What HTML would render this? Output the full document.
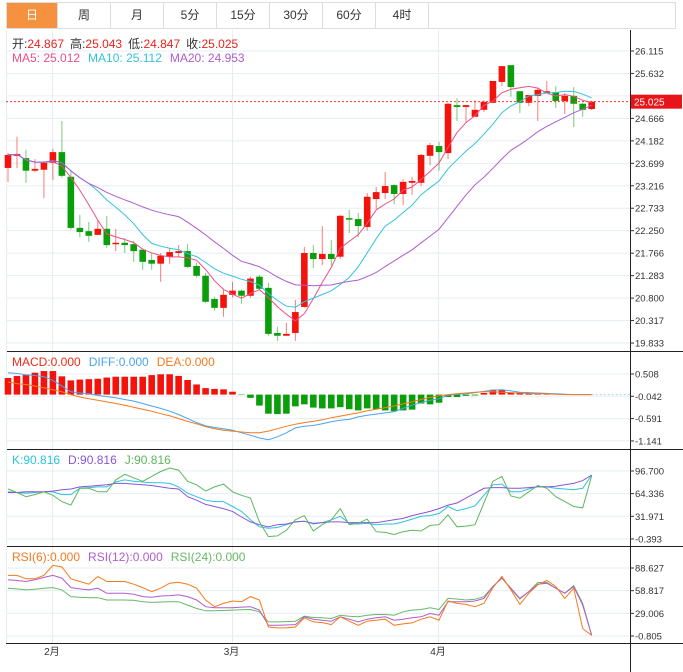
<!DOCTYPE html>
<html><head><meta charset="utf-8">
<style>
html,body{margin:0;padding:0;background:#fff;width:683px;height:672px;overflow:hidden;font-family:"Liberation Sans","Noto Sans CJK SC",sans-serif;}
#tabs{position:absolute;left:6px;top:2px;height:27px;width:670px;border:1px solid #ddd;box-sizing:border-box;display:flex;}
.tab{width:53px;height:100%;border-right:1px solid #ddd;box-sizing:border-box;text-align:center;line-height:25px;font-size:12px;color:#333;}
.tab.active{background:#f59240;color:#fff;width:51px;}
svg{position:absolute;left:0;top:0;}
</style></head><body>
<div id="tabs">
<div class="tab active">日</div>
<div class="tab">周</div>
<div class="tab">月</div>
<div class="tab">5分</div>
<div class="tab">15分</div>
<div class="tab">30分</div>
<div class="tab">60分</div>
<div class="tab">4时</div>
</div>
<svg id="chart" width="683" height="672"></svg>
<script>
const opens=[23.60,23.86,23.81,23.54,23.56,23.71,23.94,23.41,22.31,22.24,22.16,22.29,21.96,21.99,21.96,21.84,21.62,21.54,21.69,21.77,21.81,21.49,21.28,20.78,20.59,20.87,20.96,20.85,21.26,21.02,20.05,19.99,20.05,20.61,21.77,21.64,21.75,21.69,22.52,22.50,22.33,22.93,23.06,23.23,23.04,23.28,23.28,23.86,24.07,23.92,24.95,24.91,24.70,24.85,25.00,25.45,25.81,25.25,25.00,25.15,25.23,25.23,25.04,25.15,24.98,24.867];
const highs=[23.92,24.27,23.99,23.79,23.75,24.01,24.61,23.56,22.59,22.44,22.48,22.57,22.29,22.09,22.03,21.84,21.77,21.77,21.88,21.94,21.96,21.56,21.34,20.83,21.00,21.15,20.98,21.26,21.30,21.13,20.18,20.27,20.76,21.90,21.94,22.35,22.05,22.59,22.70,22.63,23.06,23.19,23.51,23.25,23.36,23.41,23.90,24.14,24.16,25.00,25.10,24.95,25.06,25.06,25.47,25.79,25.81,25.25,25.17,25.32,25.47,25.36,25.21,25.34,25.00,25.043];
const lows=[23.30,23.60,23.28,23.51,22.95,23.34,23.39,22.27,22.11,22.01,22.16,21.88,21.81,21.77,21.58,21.41,21.41,21.15,21.54,21.69,21.45,21.24,20.70,20.53,20.40,20.81,20.68,20.81,20.98,19.99,19.88,19.99,19.88,20.59,21.45,21.51,21.49,21.64,22.20,22.11,22.25,22.72,22.93,22.82,22.80,23.02,23.21,23.66,23.54,23.79,24.61,24.59,24.70,24.80,25.00,25.36,25.13,24.78,24.93,24.61,25.23,24.89,24.76,24.48,24.70,24.847];
const closes=[23.88,23.90,23.54,23.58,23.71,23.94,23.43,22.31,22.22,22.14,22.29,21.94,21.99,21.94,21.81,21.58,21.54,21.71,21.79,21.81,21.47,21.28,20.72,20.59,20.87,20.96,20.85,21.22,21.00,20.03,19.99,20.03,20.50,21.77,21.64,21.75,21.64,22.57,22.50,22.35,22.98,23.08,23.21,23.04,23.30,23.32,23.88,24.09,23.94,24.98,24.91,24.95,24.85,25.02,25.47,25.79,25.34,25.00,25.17,25.28,25.25,25.04,25.15,24.98,24.85,25.025];
const priceTicks=[26.115,25.632,25.149,24.666,24.182,23.699,23.216,22.733,22.250,21.766,21.283,20.800,20.317,19.833];
const macdHist=[0.41,0.46,0.48,0.54,0.58,0.58,0.45,0.35,0.37,0.38,0.39,0.42,0.44,0.44,0.44,0.44,0.48,0.50,0.50,0.46,0.36,0.25,0.16,0.14,0.13,0.07,-0.01,-0.08,-0.27,-0.47,-0.48,-0.47,-0.29,-0.24,-0.32,-0.34,-0.34,-0.31,-0.36,-0.39,-0.34,-0.36,-0.39,-0.41,-0.39,-0.37,-0.22,-0.24,-0.20,-0.06,-0.06,-0.03,-0.02,0.04,0.12,0.12,0.04,0.04,0.04,0.04,0.02,0,0,0,0,0];
const diffVals=[0.54,0.52,0.49,0.47,0.44,0.35,0.21,0.07,0.04,0.02,-0.02,-0.05,-0.08,-0.12,-0.16,-0.22,-0.28,-0.34,-0.41,-0.49,-0.59,-0.69,-0.77,-0.81,-0.84,-0.88,-0.94,-1.00,-1.07,-1.11,-1.04,-0.94,-0.82,-0.78,-0.76,-0.72,-0.67,-0.63,-0.61,-0.55,-0.51,-0.48,-0.45,-0.42,-0.34,-0.26,-0.20,-0.14,-0.10,-0.02,0.01,0.02,0.05,0.08,0.11,0.12,0.09,0.06,0.05,0.04,0.03,0.02,0.01,0,0,0];
const deaVals=[0.31,0.27,0.25,0.21,0.17,0.12,0.07,0,-0.06,-0.10,-0.14,-0.18,-0.22,-0.26,-0.31,-0.36,-0.41,-0.47,-0.52,-0.59,-0.66,-0.72,-0.79,-0.84,-0.88,-0.90,-0.92,-0.94,-0.94,-0.90,-0.84,-0.78,-0.73,-0.69,-0.66,-0.62,-0.57,-0.53,-0.49,-0.45,-0.40,-0.36,-0.32,-0.28,-0.23,-0.18,-0.12,-0.07,-0.03,0,0.02,0.04,0.06,0.07,0.07,0.06,0.05,0.04,0.03,0.02,0.02,0.01,0,0,0,0];
const macdTicks=[0.508,-0.042,-0.591,-1.141];
const kVals=[67,66,65,66,67,67,63,63,72,73,74,74,81,84,82,81,80,80,79,74,65,60,55,53,53,46,39,27,17,15,16,20,24,25,21,23,27,32,22,21,22,20,21,21,24,28,32,33,36,46,40,43,47,62,77,78,67,67,71,75,74,72,71,70,72,91];
const dVals=[66,66,67,67,67,68,70,71,74,75,76,77,79,79,78,77,76,74,72,71,60,55,49,46,43,39,31,24,20,17,20,21,24,25,22,23,24,24,23,23,23,23,25,27,29,33,36,39,43,48,51,58,65,72,73,73,72,72,73,74,74,75,77,79,83,91];
const jVals=[71,66,60,63,67,62,53,48,72,72,67,67,84,92,87,82,89,96,101,98,82,77,68,74,78,67,62,58,24,3,4,12,27,33,11,20,27,43,20,22,28,10,9,6,10,12,11,19,20,34,17,18,20,51,82,89,61,58,67,76,72,60,53,46,44,90];
const kdjTicks=[96.700,64.336,31.971,-0.393];
const rsi6=[78.9,78.9,74.4,74.4,78.9,92.2,89.9,74.4,70.9,67.3,77.5,70.9,70.9,70.9,67.3,62.9,57.6,62.0,68.7,70.0,67.3,62.0,46.5,37.7,42.1,45.2,44.3,51.0,46.5,11.1,9.8,9.8,11.1,23.1,17.7,16.8,14.2,24.4,18.6,13.3,18.6,20.0,21.3,13.3,15.1,16.4,21.3,24.4,20.0,45.2,42.1,40.8,37.7,42.1,62.9,77.5,59.8,40.8,55.4,66.5,72.2,64.3,48.7,62.0,8.9,0];
const rsi12=[73.1,72.2,70.9,73.1,76.2,78.9,75.3,62.9,61.1,59.8,62.0,55.4,55.4,55.4,54.1,51.0,50.1,51.8,52.3,53.2,51.0,46.5,37.7,36.3,36.3,36.3,37.2,37.7,33.2,13.3,13.3,13.7,14.2,24.4,21.3,20.0,18.6,24.4,21.3,17.7,21.3,23.1,24.4,20.0,21.3,23.1,24.4,28.8,26.6,44.3,44.3,44.3,45.2,48.7,64.3,75.3,62.0,48.7,57.6,67.3,68.7,62.0,55.4,64.3,39.9,0];
const rsi24=[62.0,61.1,59.8,60.7,62.0,62.9,59.8,51.0,50.1,49.6,49.6,46.5,46.5,46.5,46.1,44.3,43.4,43.9,44.3,44.3,39.9,35.4,32.3,32.3,32.8,33.2,33.7,34.1,31.0,17.7,17.7,18.2,18.6,25.3,23.5,23.1,22.2,26.6,25.3,24.4,26.6,27.5,27.5,26.6,31.0,33.2,34.1,36.3,34.1,48.7,47.8,46.5,47.4,51.0,64.3,75.3,61.1,47.8,57.6,69.6,69.6,62.0,55.4,65.6,42.1,0];
const rsiTicks=[88.627,58.817,29.006,-0.805];
const months=["2月","3月","4月"];
const monthIdx=[5,25,48];
</script>
<script>
const svg=document.getElementById('chart');
const NS='http://www.w3.org/2000/svg';
function mk(tag,attrs,parent){const e=document.createElementNS(NS,tag);for(const k in attrs)e.setAttribute(k,attrs[k]);(parent||svg).appendChild(e);return e;}
const N=closes.length;
const xOf=i=>8+8.98*i;
const yMain=p=>51+(26.115-p)*46.49;
const yMacd=v=>394.6-v*40.6;
const yKdj=v=>471+(96.7-v)*0.70;
const yRsi=v=>568+(88.627-v)*0.7604;
const RIGHT=630;
// gridlines
const grid=mk('g',{});


function hgrid(y){mk('line',{x1:6,x2:RIGHT,y1:y,y2:y,stroke:'#e6edf2','stroke-width':1},grid);}
priceTicks.forEach(t=>hgrid(yMain(t)));
macdTicks.forEach(t=>hgrid(yMacd(t)));
kdjTicks.forEach(t=>hgrid(yKdj(t)));
rsiTicks.forEach(t=>hgrid(yRsi(t)));
monthIdx.forEach(i=>{const x=Math.round(xOf(i)-1)+0.5;mk('line',{x1:x,x2:x,y1:30,y2:643,stroke:'#e6edf2','stroke-width':1},grid);});
// frame lines
[351.5,449.5,546.5,643.5].forEach(y=>mk('line',{x1:6,x2:683,y1:y,y2:y,stroke:'#222','stroke-width':1}));
mk('line',{x1:6.5,x2:6.5,y1:30,y2:643,stroke:'#e6edf2','stroke-width':1});
mk('line',{x1:RIGHT+0.5,x2:RIGHT+0.5,y1:30,y2:672,stroke:'#222','stroke-width':1});
// axis labels
function axisLabels(ticks,yf,name,skip){
  const g=mk('g',{});
  
  
  ticks.forEach((t,k)=>{const y=yf(t);mk('line',{x1:RIGHT,x2:RIGHT+4,y1:y,y2:y,stroke:'#333'},g);
    if(skip!==k){const tx=mk('text',{x:RIGHT+5,y:y+3.5,'font-size':'9.5',fill:'#333'},g);tx.textContent=t.toFixed(3);}});
}
axisLabels(priceTicks,yMain,'price-axis',2);
axisLabels(macdTicks,yMacd,'macd-axis');
axisLabels(kdjTicks,yKdj,'kdj-axis');
axisLabels(rsiTicks,yRsi,'rsi-axis');
// month labels
months.forEach((m,k)=>{const t=mk('text',{x:xOf(monthIdx[k])-1,y:655,'font-size':'10',fill:'#333','text-anchor':'middle'});


t.textContent=m;});
// candles
const RED='#f2140c',GREEN='#0a9e0a';
const cg=mk('g',{});


for(let i=0;i<N;i++){
  const up=closes[i]>=opens[i];const col=up?RED:GREEN;const x=xOf(i);
  const g=mk('g',{},cg);
  
  
  mk('line',{x1:x,x2:x,y1:yMain(highs[i]),y2:yMain(lows[i]),stroke:col,'stroke-opacity':0.55,'stroke-width':1},g);
  const yt=yMain(Math.max(opens[i],closes[i])),yb=yMain(Math.min(opens[i],closes[i]));
  mk('rect',{x:x-3.3,y:yt,width:6.6,height:Math.max(1.5,yb-yt),fill:col},g);
}
// MAs
function ma(n){return closes.map((c,i)=>{const s=closes.slice(Math.max(0,i-n+1),i+1);return s.reduce((a,b)=>a+b,0)/s.length;});}
function line(vals,yf,color,name,w){const p=mk('polyline',{points:vals.map((v,i)=>xOf(i).toFixed(1)+','+yf(v).toFixed(1)).join(' '),fill:'none',stroke:color,'stroke-width':w||1});

return p;}
line(ma(5),yMain,'#ee4f86','ma5-line');
line(ma(10),yMain,'#33c3dc','ma10-line');
line(ma(20),yMain,'#b05ccc','ma20-line');
// last price line and label
const ly=yMain(closes[N-1]);
mk('line',{x1:6,x2:RIGHT,y1:ly,y2:ly,stroke:'#f33','stroke-width':1,'stroke-dasharray':'2,2'});
const pb=mk('rect',{x:RIGHT+1,y:ly-7,width:51,height:14,fill:'#e8141a'});


const pt=mk('text',{x:RIGHT+4,y:ly+4,'font-size':'10',fill:'#fff'});pt.textContent=closes[N-1].toFixed(3);
// MACD
const mg=mk('g',{});


macdHist.forEach((v,i)=>{if(Math.abs(v)<0.005)return;const y0=yMacd(0),y1=yMacd(v);
 const r=mk('rect',{x:xOf(i)-3.3,y:Math.min(y0,y1),width:6.6,height:Math.abs(y1-y0),fill:v>0?RED:GREEN},mg);
 
 });
line(diffVals,yMacd,'#4aa3f0','diff-line');
line(deaVals,yMacd,'#f57a1c','dea-line');
mk('line',{x1:xOf(N-1),x2:RIGHT,y1:yMacd(0),y2:yMacd(0),stroke:'#9fd3f0','stroke-dasharray':'2,2'});
// KDJ
line(kVals,yKdj,'#2cc3dc','k-line');
line(dVals,yKdj,'#8a55d6','d-line');
line(jVals,yKdj,'#5cb85c','j-line');
// RSI
line(rsi24,yRsi,'#67b867','rsi24-line');
line(rsi12,yRsi,'#b05ccc','rsi12-line');
line(rsi6,yRsi,'#f57a1c','rsi6-line');
// legends
function legend(y,items,name){const t=mk('text',{x:12,y:y,'font-size':'12'});


items.forEach(([s,c,gap])=>{const sp=mk('tspan',{fill:c},t);if(gap)sp.setAttribute('dx',gap);sp.textContent=s;});}
legend(48,[['开:','#333'],['24.867','#e8231b'],['高:','#333',6],['25.043','#e8231b'],['低:','#333',6],['24.847','#e8231b'],['收:','#333',6],['25.025','#e8231b']],'ohlc-legend');
legend(62,[['MA5: 25.012','#ee4f86'],['MA10: 25.112','#33c3dc',8],['MA20: 24.953','#b05ccc',8]],'ma-legend');
legend(366,[['MACD:0.000','#ee2a1a'],['DIFF:0.000','#4aa3f0',8],['DEA:0.000','#f57a1c',8]],'macd-legend');
legend(464,[['K:90.816','#2cc3dc'],['D:90.816','#8a55d6',8],['J:90.816','#5cb85c',8]],'kdj-legend');
legend(561,[['RSI(6):0.000','#f57a1c'],['RSI(12):0.000','#b05ccc',8],['RSI(24):0.000','#67b867',8]],'rsi-legend');
</script>
</body></html>
